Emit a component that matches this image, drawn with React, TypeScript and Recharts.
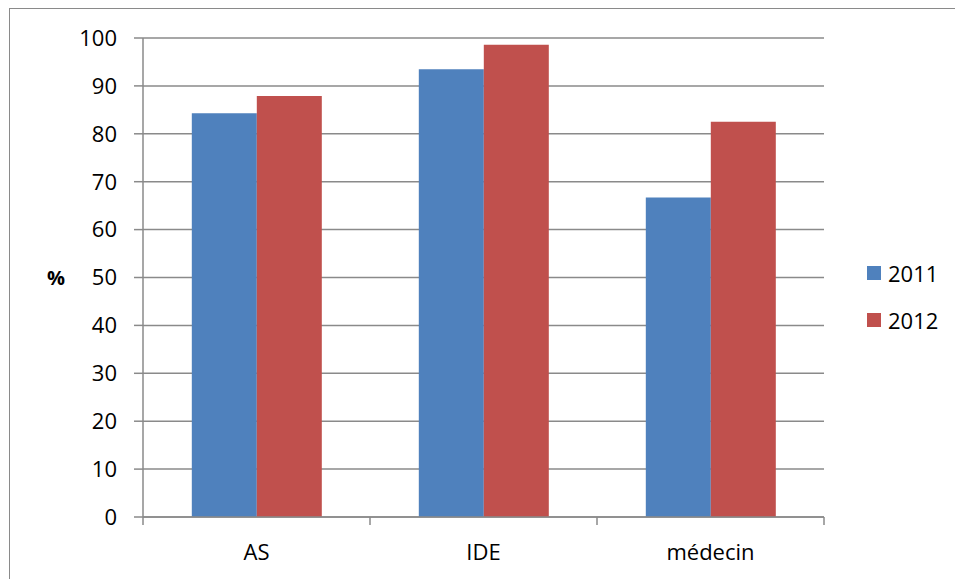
import React from 'react';
import { BarChart, Bar, XAxis, YAxis, CartesianGrid, Legend } from 'recharts';

const categories = ['AS', 'IDE', 'médecin'];
const values2011 = [84.3, 93.5, 66.7];
const values2012 = [87.9, 98.6, 82.5];
const seriesNames = ['2011', '2012'];
const yTicks = [0, 10, 20, 30, 40, 50, 60, 70, 80, 90, 100];
const yLabel = '%';

const data = categories.map((c, i) => ({ name: c, a: values2011[i], b: values2012[i] }));

const FONT = '"Open Sans", sans-serif';
const GRID = '#8a8a8a';

const XTick = (props: any) => {
  const { x, y, payload, index, visibleTicksCount } = props;
  const off = payload && payload.offset ? payload.offset : 0;
  const axisY = y - 19 - 8;
  return (
    <g>
      <line x1={x - off} x2={x - off} y1={axisY} y2={axisY + 8} stroke={GRID} strokeWidth={1.5} />
      {index === visibleTicksCount - 1 && (
        <line x1={x + off} x2={x + off} y1={axisY} y2={axisY + 8} stroke={GRID} strokeWidth={1.5} />
      )}
      <text x={x} y={y} dy="0.71em" textAnchor="middle" fill="#000" fontFamily={FONT} fontSize={22}>
        {payload.value}
      </text>
    </g>
  );
};

const renderLegend = (props: any) => {
  const { payload } = props;
  return (
    <div style={{ fontFamily: FONT, fontSize: 22, color: '#000' }}>
      {(payload || []).map((e: any, i: number) => (
        <div key={i} style={{ display: 'flex', alignItems: 'center', height: 30, lineHeight: '30px', marginBottom: 17 }}>
          <span style={{ display: 'inline-block', width: 14, height: 14, background: e.color, marginRight: 7 }} />
          <span>{e.value}</span>
        </div>
      ))}
    </div>
  );
};

export default function App() {
  return (
    <div style={{ position: 'absolute', left: 0, top: 0, width: 955, height: 579, overflow: 'hidden', background: '#fff' }}>
      <div style={{ position: 'absolute', left: 9, top: 8, width: 1000, height: 1000, borderTop: '1.5px solid #8a8a8a', borderLeft: '1.5px solid #8a8a8a' }} />
      <div style={{ position: 'absolute', left: 0, top: 0 }}>
        <BarChart
          width={955}
          height={579}
          data={data}
          margin={{ top: 38, right: 41, bottom: 0, left: 42 }}
          barCategoryGap="21.5%"
          barGap={0}
        >
          <CartesianGrid vertical={false} stroke={GRID} strokeWidth={1.5} />
          <XAxis
            dataKey="name"
            axisLine={{ stroke: GRID, strokeWidth: 1.5 }}
            tickLine={false}
            tickSize={8}
            tickMargin={19}
            height={62}
            tick={<XTick />}
            interval={0}
          />
          <YAxis
            domain={[0, 100]}
            ticks={yTicks}
            width={101}
            axisLine={{ stroke: GRID, strokeWidth: 1.5 }}
            tickLine={{ stroke: GRID, strokeWidth: 1.5 }}
            tickSize={9}
            tickMargin={17}
            tick={{ fill: '#000', fontFamily: FONT, fontSize: 22 }}
            label={{ value: yLabel, position: 'insideLeft', offset: 5, fill: '#000', fontFamily: FONT, fontSize: 20, fontWeight: 'bold' }}
            interval={0}
          />
          <Legend
            layout="horizontal"
            verticalAlign="middle"
            align="right"
            content={renderLegend}
            wrapperStyle={{ left: 867, top: 258, width: 90 }}
          />
          <Bar dataKey="a" name={seriesNames[0]} fill="#4F81BD" isAnimationActive={false} />
          <Bar dataKey="b" name={seriesNames[1]} fill="#C0504D" isAnimationActive={false} />
        </BarChart>
      </div>
    </div>
  );
}
